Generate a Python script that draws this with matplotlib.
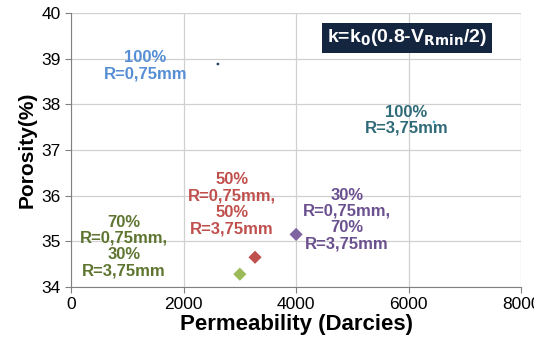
import matplotlib
matplotlib.use('Agg')
import matplotlib.pyplot as plt

plt.rcParams['font.family'] = ['Liberation Sans', 'DejaVu Sans']

# data
perm = [3000, 3270, 4000, 2610, 6450]
poro = [34.28, 34.65, 35.15, 38.88, 37.61]
colors = ['#9BBB59', '#C0504D', '#8064A2', '#1F3864', '#4BACC6']
sizes = [45, 45, 45, 3, 3]

labels = ['70%\nR=0,75mm,\n30%\nR=3,75mm',
          '50%\nR=0,75mm,\n50%\nR=3,75mm',
          '30%\nR=0,75mm,\n70%\nR=3,75mm',
          '100%\nR=0,75mm',
          '100%\nR=3,75mm']
label_colors = ['#5E7530', '#C0504D', '#6B5090', '#558ED5', '#2F6A78']
label_pos = [(940, 34.89), (2860, 35.81), (4900, 35.48), (1320, 38.84), (5960, 37.65)]

xticks = [0, 2000, 4000, 6000, 8000]
yticks = [34, 35, 36, 37, 38, 39, 40]

fig = plt.figure(figsize=(5.34, 3.47), dpi=100)
ax = fig.add_axes([0.133, 0.173, 0.843, 0.79])

ax.scatter(perm, poro, c=colors, s=sizes, marker='D', zorder=3, linewidths=0)

for lab, col, (lx, ly) in zip(labels, label_colors, label_pos):
    ax.text(lx, ly, lab, color=col, fontsize=12, fontweight='bold',
            ha='center', va='center', linespacing=1.1)

ax.text(5973, 39.45, r'k=k$_\mathbf{0}$(0.8-V$_\mathbf{Rmin}$/2)', color='white',
        fontsize=14, fontweight='bold', ha='center', va='center',
        bbox=dict(boxstyle='square,pad=0.25', fc='#14253F', ec='none'))

ax.set_xlim(0, 8000)
ax.set_ylim(34, 40)
ax.set_xticks(xticks)
ax.set_yticks(yticks)
ax.grid(True, color='#D0D0D0', linewidth=0.9)
ax.set_axisbelow(True)
for s in ['top', 'right']:
    ax.spines[s].set_visible(False)
for s in ['left', 'bottom']:
    ax.spines[s].set_color('#808080')
ax.tick_params(colors='#808080', labelcolor='black', labelsize=12.5, length=4)

ax.set_xlabel('Permeability (Darcies)', fontsize=16, fontweight='bold', labelpad=1)
ax.set_ylabel('Porosity(%)', fontsize=15, fontweight='bold', labelpad=3)

fig.savefig('out.png', dpi=100)
